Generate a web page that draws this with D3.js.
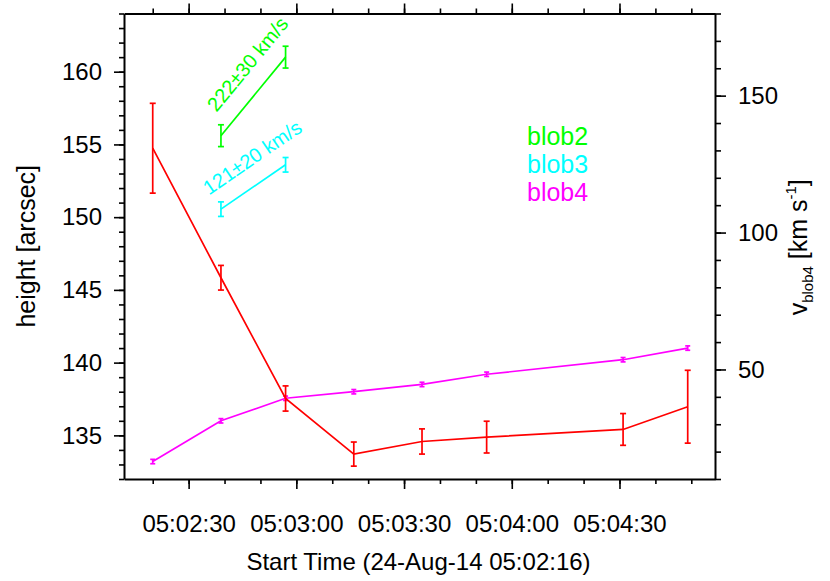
<!DOCTYPE html>
<html>
<head>
<meta charset="utf-8">
<script src="https://cdn.jsdelivr.net/npm/d3@7"></script>
<style>
  body { margin: 0; background: #fff; }
  text { font-family: "Liberation Sans", Arial, Helvetica, sans-serif; }
</style>
</head>
<body>
<svg width="830" height="581"></svg>
<script>
// start of the time axis: 24-Aug-14 05:02:16 (UTC)
var startTime = Date.UTC(2014, 7, 24, 5, 2, 16);

// seconds after start time
var times = [4, 23, 41, 60, 79, 97, 135, 153];

// blob4 height [arcsec] (left axis)
var blob4Height = [133.2, 136.0, 137.55, 138.0, 138.5, 139.2, 140.2, 141.0];
var blob4HeightErr = [0.15, 0.15, 0.15, 0.15, 0.15, 0.15, 0.15, 0.15];

// blob4 speed [km/s] (right axis)
var blob4Speed = [130.8, 83.5, 39.4, 19.1, 23.7, 25.3, 28.1, 36.4];
var blob4SpeedErr = [16.4, 4.5, 4.6, 4.4, 4.6, 5.8, 5.8, 13.3];

// blob2 / blob3 height fits
var fitTimes = [23, 41];
var blob2Height = [155.6, 161.0];
var blob2Err = [0.75, 0.75];
var blob3Height = [150.55, 153.6];
var blob3Err = [0.5, 0.5];

var fitLabels = ["222\u00b130 km/s", "121\u00b120 km/s"];
var legendLabels = ["blob2", "blob3", "blob4"];
var colors = {blob2: "#00ff00", blob3: "#00ffff", blob4: "#ff00ff", speed: "#ff0000"};

var heightTicks = [135, 140, 145, 150, 155, 160];
var speedTicks = [50, 100, 150];

var svg = d3.select("svg"),
    margin = {top: 13.5, right: 115, bottom: 102, left: 124},
    width = svg.attr("width") - margin.left - margin.right,
    height = svg.attr("height") - margin.top - margin.bottom,
    g = svg.append("g").attr("transform", "translate(" + margin.left + "," + margin.top + ")");

var toDate = function(s) { return new Date(startTime + s * 1000); };

var x = d3.scaleUtc().domain([toDate(-4), toDate(160.6)]).range([0, width]),
    yH = d3.scaleLinear().domain([132, 164]).range([height, 0]),
    yV = d3.scaleLinear().domain([10, 180]).range([height, 0]);

function styleAxis(sel, minor) {
  sel.selectAll(".tick line").attr("stroke", "#000").attr("stroke-width", 1.6);
  sel.selectAll("text").style("font-size", "24px").attr("fill", "#000");
  if (minor) sel.select(".domain").remove();
  else sel.select(".domain").attr("stroke-width", 2);
}

// x axes (bottom labelled, top bare)
g.append("g").attr("transform", "translate(0," + height + ")")
    .call(d3.axisBottom(x).ticks(d3.utcSecond.every(10)).tickSize(5).tickFormat(""))
    .call(styleAxis, true);
g.append("g").call(d3.axisTop(x).ticks(d3.utcSecond.every(10)).tickSize(5).tickFormat(""))
    .call(styleAxis, true);
var xAxis = g.append("g").attr("transform", "translate(0," + height + ")")
    .call(d3.axisBottom(x).ticks(d3.utcSecond.every(30)).tickSize(10).tickSizeOuter(0)
      .tickFormat(d3.utcFormat("%H:%M:%S")))
    .call(styleAxis, false);
xAxis.selectAll("text").attr("y", 53).attr("dy", 0);
g.append("g")
    .call(d3.axisTop(x).ticks(d3.utcSecond.every(30)).tickSize(10).tickSizeOuter(0).tickFormat(""))
    .call(styleAxis, false);

// left axis: height
g.append("g").call(d3.axisLeft(yH).tickValues(d3.range(132, 165, 1)).tickSize(5).tickFormat(""))
    .call(styleAxis, true);
g.append("g").call(d3.axisLeft(yH).tickValues(heightTicks).tickSize(10).tickSizeOuter(0).tickPadding(12))
    .call(styleAxis, false);

// right axis: speed
g.append("g").attr("transform", "translate(" + width + ",0)")
    .call(d3.axisRight(yV).tickValues(d3.range(10, 181, 10)).tickSize(6).tickFormat(""))
    .call(styleAxis, true);
g.append("g").attr("transform", "translate(" + width + ",0)")
    .call(d3.axisRight(yV).tickValues(speedTicks).tickSize(11).tickSizeOuter(0).tickPadding(12))
    .call(styleAxis, false);

// axis titles
svg.append("text")
    .attr("transform", "translate(35," + (margin.top + height / 2) + ") rotate(-90)")
    .attr("text-anchor", "middle")
    .style("font-size", "25px")
    .text("height [arcsec]");

svg.append("text")
    .attr("x", margin.left + width / 2 - 1)
    .attr("y", 570)
    .attr("text-anchor", "middle")
    .style("font-size", "24px")
    .text("Start Time (24-Aug-14 05:02:16)");

var vTitle = svg.append("text")
    .attr("transform", "translate(807," + (margin.top + height / 2 + 1) + ") rotate(-90)")
    .attr("text-anchor", "middle")
    .style("font-size", "25px");
vTitle.append("tspan").text("v");
vTitle.append("tspan").attr("dy", 6).style("font-size", "15px").text("blob4");
vTitle.append("tspan").attr("dy", -6).text(" [km s");
vTitle.append("tspan").attr("dy", -11).style("font-size", "15px").text("-1");
vTitle.append("tspan").attr("dy", 11).text("]");

// series drawing helper: line plus error bars
function series(ts, vals, errs, y, color, cap) {
  var pts = ts.map(function(t, i) { return {t: t, v: vals[i], e: errs[i]}; });
  var line = d3.line()
      .x(function(d) { return x(toDate(d.t)); })
      .y(function(d) { return y(d.v); });
  g.append("path").datum(pts)
      .attr("d", line)
      .attr("fill", "none")
      .attr("stroke", color)
      .attr("stroke-width", 1.7);
  var eb = g.selectAll(null).data(pts).enter().append("g")
      .attr("stroke", color).attr("stroke-width", 1.7);
  eb.append("line")
      .attr("x1", function(d) { return x(toDate(d.t)); })
      .attr("x2", function(d) { return x(toDate(d.t)); })
      .attr("y1", function(d) { return y(d.v - d.e); })
      .attr("y2", function(d) { return y(d.v + d.e); });
  [-1, 1].forEach(function(s) {
    eb.append("line")
        .attr("x1", function(d) { return x(toDate(d.t)) - cap; })
        .attr("x2", function(d) { return x(toDate(d.t)) + cap; })
        .attr("y1", function(d) { return y(d.v + s * d.e); })
        .attr("y2", function(d) { return y(d.v + s * d.e); });
  });
  return pts;
}

series(times, blob4Height, blob4HeightErr, yH, colors.blob4, 2.5);
series(times, blob4Speed, blob4SpeedErr, yV, colors.speed, 3);
series(fitTimes, blob2Height, blob2Err, yH, colors.blob2, 3);
series(fitTimes, blob3Height, blob3Err, yH, colors.blob3, 3);

// rotated speed labels along the fitted segments
function fitLabel(vals, label, color, dx, dy) {
  var x0 = x(toDate(fitTimes[0])), y0 = yH(vals[0]),
      x1 = x(toDate(fitTimes[1])), y1 = yH(vals[1]);
  var ang = Math.atan2(y1 - y0, x1 - x0) * 180 / Math.PI;
  g.append("text")
      .attr("transform", "translate(" + x0 + "," + y0 + ") rotate(" + ang + ")")
      .attr("x", dx).attr("y", dy)
      .attr("fill", color)
      .style("font-size", "20px")
      .text(label);
}
fitLabel(blob2Height, fitLabels[0], colors.blob2, 15, -18);
fitLabel(blob3Height, fitLabels[1], colors.blob3, -2, -18);

// legend
g.selectAll(".legend").data(legendLabels).enter().append("text")
    .attr("class", "legend")
    .attr("x", 527 - margin.left)
    .attr("y", function(d, i) { return 145 - margin.top + i * 28; })
    .attr("fill", function(d) { return colors[d]; })
    .style("font-size", "25px")
    .text(function(d) { return d; });
</script>
</body>
</html>
